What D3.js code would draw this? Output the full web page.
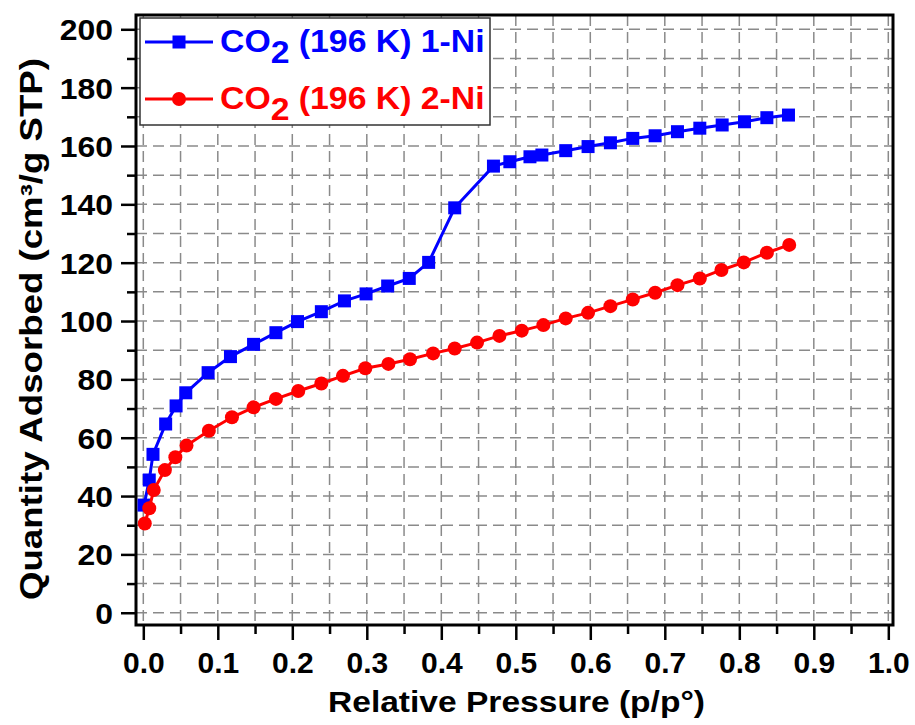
<!DOCTYPE html>
<html>
<head>
<meta charset="utf-8">
<script src="https://cdn.jsdelivr.net/npm/d3@7"></script>
<style>
  body { margin: 0; background: #fff; }
  text { font-family: Arial, "Liberation Sans", sans-serif; font-weight: bold; }
</style>
</head>
<body>
<div id="chart"></div>
<script>
// data
const pressure1 = [0.001, 0.008, 0.013, 0.030, 0.044, 0.057, 0.087, 0.117, 0.148, 0.178, 0.207, 0.239, 0.270, 0.299, 0.328, 0.357, 0.383, 0.418, 0.470, 0.492, 0.519, 0.535, 0.567, 0.597, 0.627, 0.657, 0.687, 0.717, 0.747, 0.777, 0.807, 0.837, 0.866];
const quantity1 = [36.9, 45.5, 54.3, 64.7, 70.9, 75.4, 82.3, 87.8, 92.0, 96.0, 99.8, 103.2, 106.9, 109.3, 112.0, 114.6, 120.1, 138.8, 153.1, 154.6, 156.3, 156.9, 158.4, 159.8, 161.1, 162.6, 163.5, 164.9, 166.1, 167.2, 168.3, 169.7, 170.6];

const pressure2 = [0.002, 0.008, 0.014, 0.029, 0.043, 0.058, 0.088, 0.119, 0.148, 0.178, 0.208, 0.239, 0.268, 0.298, 0.329, 0.358, 0.389, 0.418, 0.448, 0.478, 0.508, 0.537, 0.567, 0.597, 0.627, 0.657, 0.687, 0.717, 0.747, 0.776, 0.806, 0.837, 0.867];
const quantity2 = [30.6, 35.8, 42.1, 48.9, 53.3, 57.3, 62.4, 67.0, 70.4, 73.3, 76.0, 78.6, 81.2, 83.8, 85.3, 86.9, 88.9, 90.6, 92.6, 94.9, 96.7, 98.6, 100.9, 102.8, 105.1, 107.4, 109.7, 112.3, 114.6, 117.5, 120.1, 123.4, 126.1];

const xTicks = [0, 0.1, 0.2, 0.3, 0.4, 0.5, 0.6, 0.7, 0.8, 0.9, 1.0];
const xMinor = [0.05, 0.15, 0.25, 0.35, 0.45, 0.55, 0.65, 0.75, 0.85, 0.95];
const yTicks = [0, 20, 40, 60, 80, 100, 120, 140, 160, 180, 200];
const yMinor = [10, 30, 50, 70, 90, 110, 130, 150, 170, 190];

const seriesNames = ["1-Ni", "2-Ni"];
const colors = ["#0000ff", "#ff0000"];

const width = 915;
const height = 725;
const pLeft = 136, pRight = 893, pTop = 15, pBottom = 625;

let svg = d3.select("#chart").append("svg")
    .attr("width", width)
    .attr("height", height);

let x = d3.scaleLinear()
    .domain([-0.0098, 1.0063])
    .range([pLeft, pRight]);

let y = d3.scaleLinear()
    .domain([-4.2, 204.9])
    .range([pBottom, pTop]);

// grid (major + minor)
let grid = svg.append("g")
    .attr("stroke", "#8a8a8a")
    .attr("stroke-width", 1.5)
    .attr("stroke-dasharray", "11,6");

grid.selectAll(".vg")
    .data(xTicks.concat(xMinor))
    .enter().append("line")
    .attr("x1", d => x(d)).attr("x2", d => x(d))
    .attr("y1", pTop).attr("y2", pBottom);

grid.selectAll(".hg")
    .data(yTicks.concat(yMinor))
    .enter().append("line")
    .attr("y1", d => y(d)).attr("y2", d => y(d))
    .attr("x1", pLeft).attr("x2", pRight);

// axes
let xAxis = svg.append("g")
    .attr("transform", `translate(0,${pBottom})`)
    .call(d3.axisBottom(x).tickValues(xTicks).tickSize(15).tickSizeOuter(0).tickFormat(d3.format(".1f")));
let xAxisMinor = svg.append("g")
    .attr("transform", `translate(0,${pBottom})`)
    .call(d3.axisBottom(x).tickValues(xMinor).tickSize(9).tickSizeOuter(0).tickFormat(""));

let yAxis = svg.append("g")
    .attr("transform", `translate(${pLeft},0)`)
    .call(d3.axisLeft(y).tickValues(yTicks).tickSize(15).tickSizeOuter(0));
let yAxisMinor = svg.append("g")
    .attr("transform", `translate(${pLeft},0)`)
    .call(d3.axisLeft(y).tickValues(yMinor).tickSize(9).tickSizeOuter(0).tickFormat(""));

[xAxis, xAxisMinor, yAxis, yAxisMinor].forEach(a => {
    a.select(".domain").remove();
    a.selectAll(".tick line").attr("stroke", "#000").attr("stroke-width", 2.5);
});

xAxis.selectAll(".tick text")
    .attr("fill", "#000")
    .style("font-size", "30px")
    .attr("y", 48)
    .attr("dy", 0);

// y labels are a touch wider than plain Arial in the original
yAxis.selectAll(".tick text")
    .attr("fill", "#000")
    .style("font-size", "29px")
    .attr("x", 0)
    .attr("dy", "0.36em")
    .attr("transform", "translate(-23,0) scale(1.1,1)");

// frame
svg.append("rect")
    .attr("x", pLeft).attr("y", pTop)
    .attr("width", pRight - pLeft).attr("height", pBottom - pTop)
    .attr("fill", "none")
    .attr("stroke", "#000")
    .attr("stroke-width", 3);

// axis titles
svg.append("text")
    .attr("text-anchor", "middle")
    .attr("transform", `translate(${(pLeft + pRight) / 2 + 2},712)`)
    .style("font-size", "30px")
    .attr("textLength", 377)
    .attr("lengthAdjust", "spacingAndGlyphs")
    .text("Relative Pressure (p/p°)");

svg.append("text")
    .attr("text-anchor", "middle")
    .attr("transform", `translate(42,329) rotate(-90)`)
    .style("font-size", "31px")
    .attr("textLength", 542)
    .attr("lengthAdjust", "spacingAndGlyphs")
    .text("Quantity Adsorbed (cm³/g STP)");

// series
const series = [
    { p: pressure1, q: quantity1, shape: "square" },
    { p: pressure2, q: quantity2, shape: "circle" }
];

let line = d3.line()
    .x(d => x(d[0]))
    .y(d => y(d[1]));

series.forEach((s, i) => {
    let pts = s.p.map((p, j) => [p, s.q[j]]);
    let g = svg.append("g");
    g.append("path")
        .datum(pts)
        .attr("fill", "none")
        .attr("stroke", colors[i])
        .attr("stroke-width", 3)
        .attr("d", line);

    if (s.shape === "square") {
        g.selectAll("rect")
            .data(pts)
            .enter().append("rect")
            .attr("x", d => x(d[0]) - 6.5)
            .attr("y", d => y(d[1]) - 6.5)
            .attr("width", 13).attr("height", 13)
            .attr("fill", colors[i]);
    } else {
        g.selectAll("circle")
            .data(pts)
            .enter().append("circle")
            .attr("cx", d => x(d[0]))
            .attr("cy", d => y(d[1]))
            .attr("r", 7)
            .attr("fill", colors[i]);
    }
});

// legend
let legend = svg.append("g");
legend.append("rect")
    .attr("x", 140).attr("y", 18)
    .attr("width", 350).attr("height", 107)
    .attr("fill", "#fff")
    .attr("stroke", "#333")
    .attr("stroke-width", 1.5);

seriesNames.forEach((name, i) => {
    let cy = 42 + i * 57;
    legend.append("line")
        .attr("x1", 145).attr("x2", 213)
        .attr("y1", cy).attr("y2", cy)
        .attr("stroke", colors[i])
        .attr("stroke-width", 3);
    if (i === 0) {
        legend.append("rect")
            .attr("x", 179 - 6.5).attr("y", cy - 6.5)
            .attr("width", 13).attr("height", 13)
            .attr("fill", colors[i]);
    } else {
        legend.append("circle")
            .attr("cx", 179).attr("cy", cy)
            .attr("r", 7)
            .attr("fill", colors[i]);
    }
    let t = legend.append("text")
        .attr("transform", `translate(220,${cy + 10}) scale(1.09,1)`)
        .attr("fill", colors[i])
        .style("font-size", "31px");
    t.append("tspan").text("CO");
    t.append("tspan").attr("dy", 11).text("2");
    t.append("tspan").attr("dy", -11).text(" (196 K) " + name);
});
</script>
</body>
</html>
